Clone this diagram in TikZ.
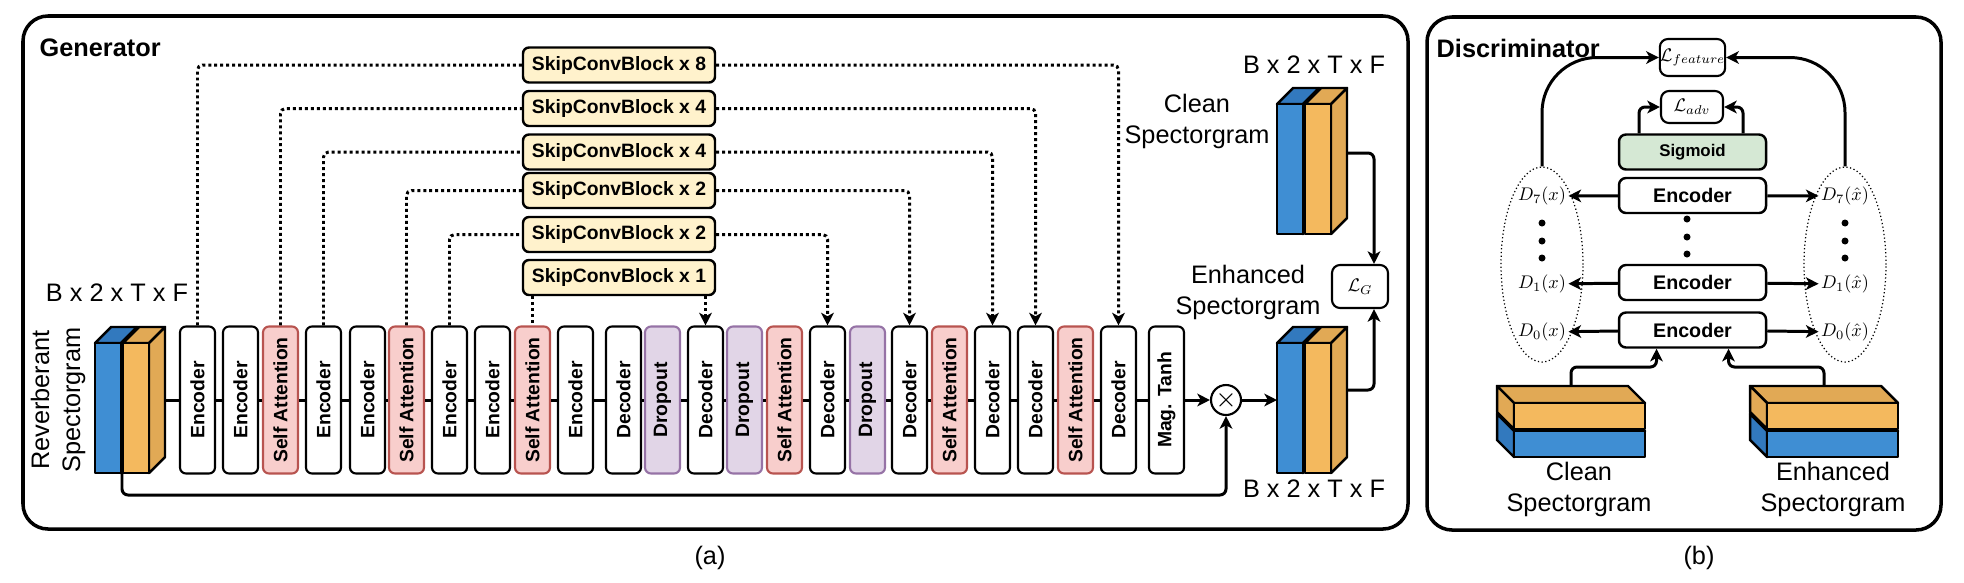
\documentclass[tikz,border=0pt]{standalone}
\usepackage{fontspec}
\setmainfont{Liberation Sans}
\usepackage{graphicx}
\usepackage{tikz}
\usetikzlibrary{arrows.meta,shapes.geometric}

\definecolor{specblue}{HTML}{3F8ED3}
\definecolor{specbluedark}{HTML}{3279BE}
\definecolor{specorange}{HTML}{F4B95E}
\definecolor{specorangedark}{HTML}{E1A955}
\definecolor{attnfill}{HTML}{F8CECC}
\definecolor{attnline}{HTML}{B85450}
\definecolor{dropfill}{HTML}{E1D5E7}
\definecolor{dropline}{HTML}{9673A6}
\definecolor{skipfill}{HTML}{FFF2CC}
\definecolor{sigfill}{HTML}{D5E8D4}

\tikzstyle{frame} = [line width=1pt, rounded corners=2.5mm]
\tikzstyle{title} = [anchor=west, inner sep=0pt, font=\bfseries\fontsize{7.2}{8.8}\selectfont]
\tikzstyle{layer} = [draw, rectangle, rounded corners=0.6mm, fill=white, minimum width=3.5mm, minimum height=14.7mm, inner sep=0pt, line width=0.6pt, font=\bfseries\fontsize{5.5}{6.5}\selectfont]
\tikzstyle{attn} = [layer, fill=attnfill, draw=attnline]
\tikzstyle{dropbox} = [layer, fill=dropfill, draw=dropline]
\tikzstyle{skipblk} = [draw, rectangle, rounded corners=0.6mm, fill=skipfill, minimum width=19.2mm, minimum height=3.5mm, inner sep=0pt, line width=0.7pt, font=\bfseries\fontsize{5.5}{6.5}\selectfont]
\tikzstyle{discenc} = [draw, rectangle, rounded corners=0.7mm, fill=white, minimum width=14.7mm, minimum height=3.5mm, inner sep=0pt, line width=0.7pt, font=\bfseries\fontsize{5.6}{6.5}\selectfont]
\tikzstyle{lossbox} = [draw, rectangle, rounded corners=0.8mm, fill=white, inner sep=0pt, line width=0.6pt, font=\fontsize{10}{12}\selectfont]
\tikzstyle{dlbl} = [inner sep=0.5pt, font=\fontsize{10}{12}\selectfont]
\tikzstyle{featring} = [ellipse, draw, line width=0.35pt, dash pattern=on 0.35pt off 0.7pt, minimum width=8.2mm, minimum height=19.5mm, inner sep=0pt]
\tikzstyle{mainline} = [line width=0.85pt]
\tikzstyle{conn} = [line width=0.85pt, -{Stealth[length=3.6pt, width=3.6pt, inset=1pt]}]
\tikzstyle{skipline} = [line width=0.85pt, dash pattern=on 0.85pt off 0.85pt, rounded corners=0.5mm]
\tikzstyle{skiparrow} = [skipline, -{Stealth[length=3.6pt, width=3.6pt, inset=1pt]}]
\tikzstyle{slab} = [line width=0.7pt, line join=round]

\newcommand{\mathlbl}[1]{\scalebox{0.52}{$#1$}}
\newcommand{\upslab}[3]{
  \filldraw[slab, fill=#3dark] (#1,#2) -- (#1+16,#2-16) -- (#1+42,#2-16) -- (#1+26,#2) -- cycle;
  \filldraw[slab, fill=#3dark] (#1+26,#2) -- (#1+42,#2-16) -- (#1+42,#2+114) -- (#1+26,#2+130) -- cycle;
  \filldraw[slab, fill=#3] (#1,#2) rectangle (#1+26,#2+130);
}
\newcommand{\flatslab}[3]{
  \filldraw[slab, fill=#3dark] (#1,#2) -- (#1-17,#2-17) -- (#1+114,#2-17) -- (#1+131,#2) -- cycle;
  \filldraw[slab, fill=#3dark] (#1,#2) -- (#1-17,#2-17) -- (#1-17,#2+9) -- (#1,#2+26) -- cycle;
  \filldraw[slab, fill=#3] (#1,#2) rectangle (#1+131,#2+26);
}

\begin{document}
\begin{tikzpicture}[x=0.1mm, y=-0.1mm, font=\fontsize{7.2}{8.8}\selectfont]
\useasboundingbox (0,0) rectangle (1964,582);
\draw[frame] (23,16) rectangle (1408,529);
\draw[frame] (1427,17) rectangle (1941,530);
\node[title] (gtitle) at (39,48) {Generator};
\node[title] (dtitle) at (1436,48) {Discriminator};
\node (capa) at (710,558) {(a)};
\node (capb) at (1699,558) {(b)};

% generator
\upslab{95}{343}{specblue}
\upslab{123}{343}{specorange}
\coordinate (revout) at (165,400);
\coordinate (revbase) at (122,473);
\node[rotate=90, align=center] (revlbl) at (58,400) {Reverberant\\Spectorgram};
\node (revdim) at (117,293) {B x 2 x T x F};

\node[layer] (enc1) at (197.5,400) {\rotatebox{90}{Encoder}};
\node[layer] (enc2) at (240.5,400) {\rotatebox{90}{Encoder}};
\node[attn] (att1) at (280.5,400) {\rotatebox{90}{Self Attention}};
\node[layer] (enc3) at (323.5,400) {\rotatebox{90}{Encoder}};
\node[layer] (enc4) at (367.5,400) {\rotatebox{90}{Encoder}};
\node[attn] (att2) at (406.5,400) {\rotatebox{90}{Self Attention}};
\node[layer] (enc5) at (449.5,400) {\rotatebox{90}{Encoder}};
\node[layer] (enc6) at (492.5,400) {\rotatebox{90}{Encoder}};
\node[attn] (att3) at (532.5,400) {\rotatebox{90}{Self Attention}};
\node[layer] (enc7) at (575.5,400) {\rotatebox{90}{Encoder}};
\node[layer] (dec1) at (623.5,400) {\rotatebox{90}{Decoder}};
\node[dropbox] (drop1) at (662.5,400) {\rotatebox{90}{Dropout}};
\node[layer] (dec2) at (705.5,400) {\rotatebox{90}{Decoder}};
\node[dropbox] (drop2) at (744.5,400) {\rotatebox{90}{Dropout}};
\node[attn] (att4) at (784.5,400) {\rotatebox{90}{Self Attention}};
\node[layer] (dec3) at (827.5,400) {\rotatebox{90}{Decoder}};
\node[dropbox] (drop3) at (867.5,400) {\rotatebox{90}{Dropout}};
\node[layer] (dec4) at (909.5,400) {\rotatebox{90}{Decoder}};
\node[attn] (att5) at (949.5,400) {\rotatebox{90}{Self Attention}};
\node[layer] (dec5) at (992.5,400) {\rotatebox{90}{Decoder}};
\node[layer] (dec6) at (1035.5,400) {\rotatebox{90}{Decoder}};
\node[attn] (att6) at (1075.5,400) {\rotatebox{90}{Self Attention}};
\node[layer] (dec7) at (1118.5,400) {\rotatebox{90}{Decoder}};
\node[layer] (tanh) at (1166.5,400) {\rotatebox{90}{Mag. Tanh}};
\node[circle, draw, line width=0.6pt, minimum size=3mm, inner sep=0pt] (mul) at (1226,400) {$\times$};

\draw[mainline] (revout) -- (enc1) -- (enc2) -- (att1) -- (enc3) -- (enc4) -- (att2) -- (enc5) -- (enc6) -- (att3) -- (enc7) -- (dec1) -- (drop1) -- (dec2) -- (drop2) -- (att4) -- (dec3) -- (drop3) -- (dec4) -- (att5) -- (dec5) -- (dec6) -- (att6) -- (dec7) -- (tanh);
\coordinate (enhin) at (1277,400);
\draw[conn] (tanh) -- (mul);
\draw[conn] (mul) -- (enhin);
\draw[conn, rounded corners=0.6mm] (revbase) -- ++(0,22) -| (mul.south);

\node[skipblk] (skip8) at (619,65) {SkipConvBlock x 8};
\node[skipblk] (skip4a) at (619,108.5) {SkipConvBlock x 4};
\node[skipblk] (skip4b) at (619,152) {SkipConvBlock x 4};
\node[skipblk] (skip2a) at (619,190.5) {SkipConvBlock x 2};
\node[skipblk] (skip2b) at (619,234.5) {SkipConvBlock x 2};
\node[skipblk] (skip1) at (619,277.5) {SkipConvBlock x 1};

\draw[skipline] (enc1.north) |- (skip8.west);
\draw[skiparrow] (skip8.east) -| (dec7.north);
\draw[skipline] (att1.north) |- (skip4a.west);
\draw[skiparrow] (skip4a.east) -| (dec6.north);
\draw[skipline] (enc3.north) |- (skip4b.west);
\draw[skiparrow] (skip4b.east) -| (dec5.north);
\draw[skipline] (att2.north) |- (skip2a.west);
\draw[skiparrow] (skip2a.east) -| (dec4.north);
\draw[skipline] (enc5.north) |- (skip2b.west);
\draw[skiparrow] (skip2b.east) -| (dec3.north);
\draw[skipline] (skip1.south -| att3.north) -- (att3.north);
\draw[skiparrow] (skip1.south -| dec2.north) -- (dec2.north);

\upslab{1277}{104}{specblue}
\upslab{1305}{104}{specorange}
\upslab{1277}{343}{specblue}
\upslab{1305}{343}{specorange}
\coordinate (cleanout) at (1347,153);
\coordinate (enhout) at (1347,390);
\node[align=center] (cleanglbl) at (1197,121) {Clean\\Spectorgram};
\node[align=center] (enhglbl) at (1248,292) {Enhanced\\Spectorgram};
\node (cleandim) at (1314,65) {B x 2 x T x F};
\node (enhdim) at (1314,489) {B x 2 x T x F};
\node[lossbox, minimum width=5.6mm, minimum height=4.3mm] (lg) at (1360,286.5) {\mathlbl{\mathcal{L}_G}};
\draw[conn, rounded corners=0.6mm] (cleanout) -| ([xshift=1.4mm]lg.north);
\draw[conn, rounded corners=0.6mm] (enhout) -| ([xshift=1.4mm]lg.south);

% discriminator
\node[lossbox, minimum width=6.5mm, minimum height=3.7mm] (lfeat) at (1692.5,57.5) {\mathlbl{\mathcal{L}_{feature}}};
\node[lossbox, minimum width=6.2mm, minimum height=3.2mm] (ladv) at (1692,107) {\mathlbl{\mathcal{L}_{adv}}};
\node[discenc, fill=sigfill, font=\bfseries\fontsize{4.8}{5.5}\selectfont] (sig) at (1692.5,152) {Sigmoid};
\node[discenc] (denc7) at (1692.5,195.5) {Encoder};
\node[discenc] (denc1) at (1692.5,282.5) {Encoder};
\node[discenc] (denc0) at (1692.5,330) {Encoder};
\fill (1687,219) circle (0.35mm) (1687,237) circle (0.35mm) (1687,254) circle (0.35mm);

\node[featring] (ell) at (1542,264.5) {};
\node[featring] (elr) at (1845,264.5) {};
\node[dlbl] (dl7) at (1542,196) {\mathlbl{D_7(x)}};
\node[dlbl] (dl1) at (1542,284) {\mathlbl{D_1(x)}};
\node[dlbl] (dl0) at (1542,332) {\mathlbl{D_0(x)}};
\node[dlbl] (dr7) at (1845,196) {\mathlbl{D_7(\hat{x})}};
\node[dlbl] (dr1) at (1845,284) {\mathlbl{D_1(\hat{x})}};
\node[dlbl] (dr0) at (1845,332) {\mathlbl{D_0(\hat{x})}};
\fill (1542,223) circle (0.35mm) (1542,241) circle (0.35mm) (1542,258) circle (0.35mm);
\fill (1845,223) circle (0.35mm) (1845,241) circle (0.35mm) (1845,258) circle (0.35mm);

\draw[conn] (denc7) -- (dl7);
\draw[conn] (denc1) -- (dl1);
\draw[conn] (denc0) -- (dl0);
\draw[conn] (denc7) -- (dr7);
\draw[conn] (denc1) -- (dr1);
\draw[conn] (denc0) -- (dr0);
\draw[conn, rounded corners=5.5mm] (ell.north) |- (lfeat.west);
\draw[conn, rounded corners=5.5mm] (elr.north) |- (lfeat.east);
\draw[conn, rounded corners=0.6mm] ([xshift=-5.35mm]sig.north) |- (ladv.west);
\draw[conn, rounded corners=0.6mm] ([xshift=5.05mm]sig.north) |- (ladv.east);

\flatslab{1514}{431}{specblue}
\flatslab{1514}{403}{specorange}
\flatslab{1767}{431}{specblue}
\flatslab{1767}{403}{specorange}
\coordinate (cleantop) at (1571,386);
\coordinate (enhtop) at (1824,386);
\draw[conn, rounded corners=0.6mm] (cleantop) -- ++(0,-19) -| ([xshift=-3.6mm]denc0.south);
\draw[conn, rounded corners=0.6mm] (enhtop) -- ++(0,-19) -| ([xshift=3.6mm]denc0.south);
\node[align=center] (cleandlbl) at (1579,489) {Clean\\Spectorgram};
\node[align=center] (enhdlbl) at (1833,489) {Enhanced\\Spectorgram};
\end{tikzpicture}
\end{document}
